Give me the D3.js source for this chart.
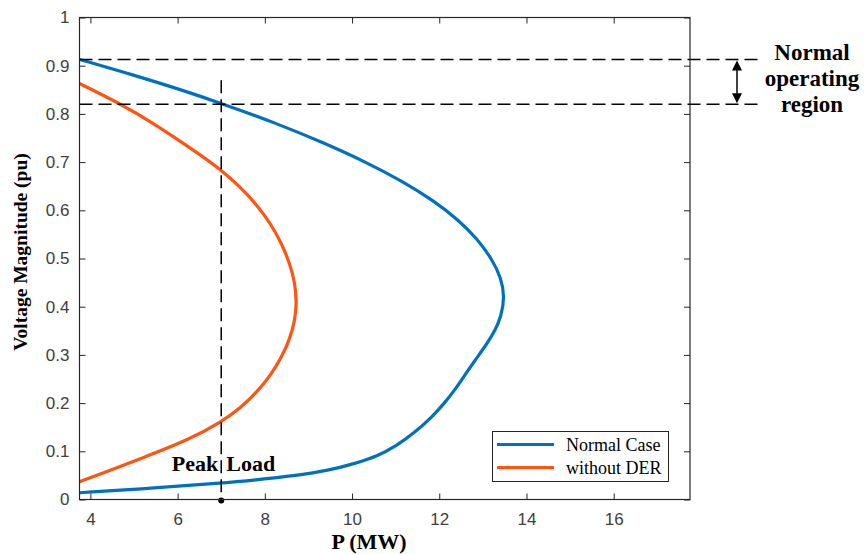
<!DOCTYPE html>
<html lang="en">
<head>
  <meta charset="utf-8">
  <script src="https://cdn.jsdelivr.net/npm/d3@7"></script>
  <style>
    body{margin:0;background:#fff;}
    .tick text{font-family:"Liberation Sans",Arial,sans-serif;font-size:17px;fill:#404040;}
    .title{font-family:"Liberation Serif","Times New Roman",serif;font-weight:bold;fill:#000;}
  </style>
</head>
<body>
<svg id="chart" width="864" height="554"></svg>
<script>
var vNormal=[0.913,0.88,0.85,0.822,0.78,0.74,0.70,0.66,0.62,0.58,0.54,0.50,0.46,0.42,0.38,0.35,0.32,0.29,0.26,0.23,0.20,0.17,0.14,0.11,0.09,0.075,0.06,0.05,0.04,0.034,0.024,0.014];
var pNormal=[3.75,5.02,6.08,7.0,8.28,9.35,10.32,11.16,11.87,12.44,12.88,13.2,13.42,13.5,13.42,13.28,13.07,12.83,12.6,12.38,12.12,11.82,11.45,11.0,10.58,10.08,9.45,8.75,7.75,7.0,5.5,3.75];

// without DER curve
var vNoDer=[0.863,0.82,0.78,0.745,0.71,0.687,0.65,0.61,0.57,0.53,0.49,0.45,0.41,0.37,0.33,0.297,0.26,0.227,0.19,0.161,0.124,0.089,0.054,0.037];
var pNoDer=[3.75,4.71,5.45,6.03,6.6,6.95,7.42,7.83,8.15,8.39,8.57,8.69,8.73,8.69,8.56,8.39,8.15,7.86,7.45,7.0,6.26,5.27,4.27,3.75];

var seriesNames=["Normal Case","without DER"];
var seriesColors=["#0072bd","#ff5511"];

var xTicks=[4,6,8,10,12,14,16];
var yTicks=[0,0.1,0.2,0.3,0.4,0.5,0.6,0.7,0.8,0.9,1];

var regionLevels=[0.913,0.82];
var peakLoad=7;
var peakTop=0.87;

var svg=d3.select("#chart");
var mLeft=79.5,mRight=690,mTop=17.5,mBottom=499.5;

var x=d3.scaleLinear().domain([3.75,17.75]).range([mLeft,mRight]);
var y=d3.scaleLinear().domain([0,1]).range([mBottom,mTop]);

svg.append("defs").append("clipPath").attr("id","clip")
  .append("rect").attr("x",mLeft).attr("y",mTop).attr("width",mRight-mLeft).attr("height",mBottom-mTop);

// axes, ticks inward on all four sides
var tk=6;
svg.append("g").attr("transform","translate(0,"+mBottom+")")
  .call(d3.axisBottom(x).tickValues(xTicks).tickSize(-tk).tickPadding(13).tickFormat(d3.format("d")))
  .call(g=>g.select(".domain").remove());
svg.append("g").attr("transform","translate(0,"+mTop+")")
  .call(d3.axisTop(x).tickValues(xTicks).tickSize(-tk).tickFormat(""))
  .call(g=>g.select(".domain").remove());
svg.append("g").attr("transform","translate("+mLeft+",0)")
  .call(d3.axisLeft(y).tickValues(yTicks).tickSize(-tk).tickPadding(10).tickFormat(d=>d==0?"0":d==1?"1":d3.format(".1f")(d)))
  .call(g=>g.select(".domain").remove());
svg.append("g").attr("transform","translate("+mRight+",0)")
  .call(d3.axisRight(y).tickValues(yTicks).tickSize(-tk).tickFormat(""))
  .call(g=>g.select(".domain").remove());
svg.selectAll(".tick line").attr("stroke","#262626");

// curves, smoothed with a B-spline through the read points
var line=d3.line().x(d=>x(d[0])).y(d=>y(d[1])).curve(d3.curveBasis);
var series=[d3.zip(pNormal,vNormal),d3.zip(pNoDer,vNoDer)];
svg.append("g").attr("clip-path","url(#clip)")
  .selectAll("path").data(series).enter().append("path")
  .attr("d",line).attr("fill","none")
  .attr("stroke",(d,i)=>seriesColors[i]).attr("stroke-width",3.2);

// normal operating region lines
svg.selectAll(".region").data(regionLevels).enter().append("line")
  .attr("x1",mLeft).attr("x2",762)
  .attr("y1",d=>y(d)).attr("y2",d=>y(d))
  .attr("stroke","#000").attr("stroke-width",1.5).attr("stroke-dasharray","13,6");

// peak load line
svg.append("line")
  .attr("x1",x(peakLoad)).attr("x2",x(peakLoad))
  .attr("y1",y(peakTop)).attr("y2",y(0))
  .attr("stroke","#000").attr("stroke-width",1.5).attr("stroke-dasharray","13,6");
svg.append("circle").attr("cx",x(peakLoad)).attr("cy",y(0)+1).attr("r",3).attr("fill","#000");

// frame
svg.append("rect").attr("x",mLeft).attr("y",mTop).attr("width",mRight-mLeft).attr("height",mBottom-mTop)
  .attr("fill","none").attr("stroke","#262626").attr("stroke-width",1.2);

// double arrow
var ax=737,y1=y(regionLevels[0]),y2=y(regionLevels[1]);
svg.append("line").attr("x1",ax).attr("x2",ax).attr("y1",y1+8).attr("y2",y2-8).attr("stroke","#000").attr("stroke-width",1.5);
svg.append("path").attr("d","M"+ax+","+(y1+1)+"L"+(ax-5)+","+(y1+11)+"L"+(ax+5)+","+(y1+11)+"Z").attr("fill","#000");
svg.append("path").attr("d","M"+ax+","+(y2-1)+"L"+(ax-5)+","+(y2-11)+"L"+(ax+5)+","+(y2-11)+"Z").attr("fill","#000");

var rt=svg.append("text").attr("class","title").attr("text-anchor","middle").style("font-size","23px");
["Normal","operating","region"].forEach(function(s,i){
  rt.append("tspan").attr("x",812).attr("y",60+i*26).text(s);
});

// Peak Load label, split round the dashed line
svg.append("text").attr("class","title").attr("x",x(peakLoad)-3).attr("y",471)
  .attr("text-anchor","end").style("font-size","22px").text("Peak");
svg.append("text").attr("class","title").attr("x",x(peakLoad)+5).attr("y",471)
  .attr("text-anchor","start").style("font-size","22px").text("Load");

// axis titles
svg.append("text").attr("class","title").attr("x",369).attr("y",549)
  .attr("text-anchor","middle").style("font-size","22px").text("P (MW)");
svg.append("text").attr("class","title").attr("transform","translate(27,252) rotate(-90)")
  .attr("text-anchor","middle").style("font-size","19.5px").text("Voltage Magnitude (pu)");

// legend
var lg=svg.append("g");
lg.append("rect").attr("x",492.5).attr("y",431.5).attr("width",176).attr("height",50)
  .attr("fill","#fff").attr("stroke","#262626").attr("stroke-width",1);
seriesNames.forEach(function(n,i){
  var ly=444.5+i*23;
  lg.append("line").attr("x1",497).attr("x2",554).attr("y1",ly).attr("y2",ly)
    .attr("stroke",seriesColors[i]).attr("stroke-width",3);
  lg.append("text").attr("x",566).attr("y",ly+6)
    .style("font-family","'Liberation Serif','Times New Roman',serif").style("font-size","18px")
    .attr("fill","#000").text(n);
});
</script>
</body>
</html>
